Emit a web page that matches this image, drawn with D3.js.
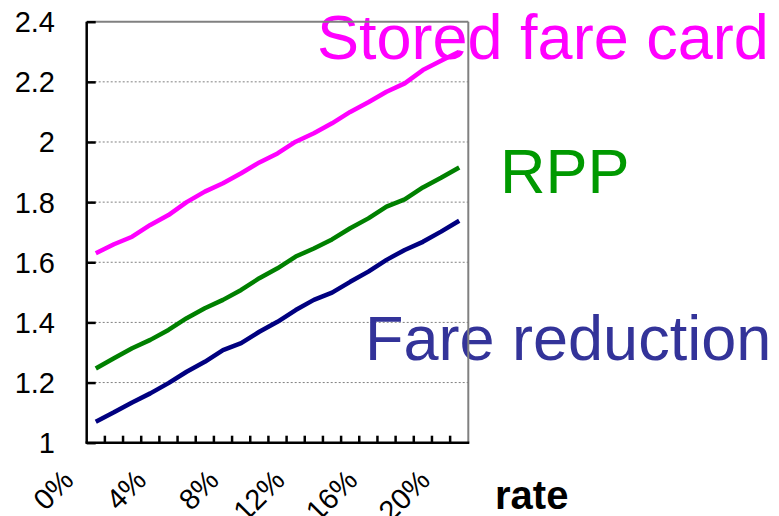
<!DOCTYPE html>
<html>
<head>
<meta charset="utf-8">
<script src="https://cdn.jsdelivr.net/npm/d3@7"></script>
<style>
  html, body { margin: 0; padding: 0; background: #ffffff; }
  svg { display: block; font-family: "Liberation Sans", Arial, sans-serif; }
</style>
</head>
<body>
<svg id="chart" width="779" height="516"></svg>
<script>
// Discount rate categories (0% .. 20%)
const rates = d3.range(0, 21).map(r => r + "%");
const labelledRates = ["0%", "4%", "8%", "12%", "16%", "20%"];

// Series values per rate
const storedFareCard = [1.63, 1.66, 1.685, 1.724, 1.757, 1.80, 1.835, 1.863, 1.896, 1.932, 1.962,
                        2.001, 2.029, 2.062, 2.10, 2.132, 2.167, 2.195, 2.239, 2.27, 2.30];
const rpp            = [1.247, 1.281, 1.314, 1.342, 1.375, 1.414, 1.447, 1.475, 1.508, 1.547, 1.58,
                        1.619, 1.646, 1.676, 1.713, 1.746, 1.785, 1.809, 1.849, 1.881, 1.915];
const fareReduction  = [1.07, 1.101, 1.134, 1.164, 1.198, 1.236, 1.269, 1.308, 1.331, 1.369, 1.402,
                        1.441, 1.475, 1.499, 1.535, 1.569, 1.608, 1.641, 1.668, 1.702, 1.738];

const yTicks = [1, 1.2, 1.4, 1.6, 1.8, 2, 2.2, 2.4];

const series = [
  { name: "Stored fare card", values: storedFareCard, line: "#ff00ff", text: "#ff00ff", lx: 317, ly: 59 },
  { name: "RPP",              values: rpp,            line: "#008000", text: "#009900", lx: 500, ly: 193 },
  { name: "Fare reduction",   values: fareReduction,  line: "#000080", text: "#333399", lx: 365, ly: 360 }
];

(function draw() {
  const svg = d3.select("#chart");
  const plotLeft = 86.7, plotRight = 468.3, plotTop = 21.7, plotBottom = 442.7;

  const x = d3.scaleBand().domain(rates).range([plotLeft, plotRight]).padding(0);
  const y = d3.scaleLinear().domain([1, 2.4]).range([plotBottom, plotTop]);

  // Dashed horizontal gridlines
  svg.append("g").selectAll("line")
    .data(yTicks.filter(v => v > 1 && v < 2.4))
    .join("line")
    .attr("x1", plotLeft).attr("x2", plotRight)
    .attr("y1", d => y(d)).attr("y2", d => y(d))
    .attr("stroke", "#808080").attr("stroke-width", 1)
    .attr("stroke-dasharray", "2,2");

  // Series lines
  const line = d3.line()
    .x((d, i) => x(rates[i]) + x.bandwidth() / 2)
    .y(d => y(d));

  svg.append("g").selectAll("path")
    .data(series)
    .join("path")
    .attr("d", d => line(d.values))
    .attr("fill", "none")
    .attr("stroke", d => d.line)
    .attr("stroke-width", 4.5)
    .attr("stroke-linejoin", "round");

  // Series names
  svg.append("g").selectAll("text")
    .data(series)
    .join("text")
    .attr("x", d => d.lx).attr("y", d => d.ly)
    .attr("fill", d => d.text)
    .attr("font-size", 63)
    .text(d => d.name);

  // Plot frame: grey top and right edges
  svg.append("line")
    .attr("x1", plotLeft).attr("x2", plotRight).attr("y1", plotTop).attr("y2", plotTop)
    .attr("stroke", "#808080").attr("stroke-width", 2);
  svg.append("line")
    .attr("x1", plotRight).attr("x2", plotRight).attr("y1", plotTop).attr("y2", plotBottom)
    .attr("stroke", "#808080").attr("stroke-width", 2);

  // Y axis with inward ticks
  const yAxis = d3.axisRight(y).tickValues(yTicks).tickSize(9).tickFormat("");
  const gy = svg.append("g").attr("transform", `translate(${plotLeft},0)`).call(yAxis);
  gy.select(".domain").attr("d", `M0,${plotTop}V${plotBottom}`).attr("stroke", "#000").attr("stroke-width", 2.5);
  gy.selectAll(".tick line").attr("stroke", "#000").attr("stroke-width", 2.5);

  svg.append("g").selectAll("text")
    .data(yTicks)
    .join("text")
    .attr("x", 55)
    .attr("y", d => y(d))
    .attr("dy", "0.36em")
    .attr("text-anchor", "end")
    .attr("font-size", 29)
    .attr("fill", "#000")
    .text(d => d3.format("~g")(d));

  // X axis: inward tick marks between categories
  const boundaries = rates.slice(1);
  const gx = svg.append("g");
  gx.append("line")
    .attr("x1", plotLeft - 1.25).attr("x2", plotRight + 1).attr("y1", plotBottom).attr("y2", plotBottom)
    .attr("stroke", "#000").attr("stroke-width", 2.5);
  gx.selectAll("line.tick")
    .data(boundaries)
    .join("line")
    .attr("class", "tick")
    .attr("x1", d => x(d)).attr("x2", d => x(d))
    .attr("y1", plotBottom).attr("y2", plotBottom - 7)
    .attr("stroke", "#000").attr("stroke-width", 2.5);

  // Rotated category labels
  const xl = svg.append("g").selectAll("text")
    .data(labelledRates)
    .join("text")
    .attr("font-size", 29)
    .attr("fill", "#000")
    .attr("text-anchor", "end")
    .text(d => d);
  xl.each(function(d) {
    const len = this.getComputedTextLength();
    const cx = x(d) + x.bandwidth() / 2 - 3 - 0.42 * len;
    d3.select(this).attr("transform", `translate(${cx},482) rotate(-45)`);
  });

  // Axis title
  svg.append("text")
    .attr("x", 495).attr("y", 509)
    .attr("font-size", 40)
    .attr("font-weight", "bold")
    .attr("fill", "#000")
    .text("rate");
})();
</script>
</body>
</html>
